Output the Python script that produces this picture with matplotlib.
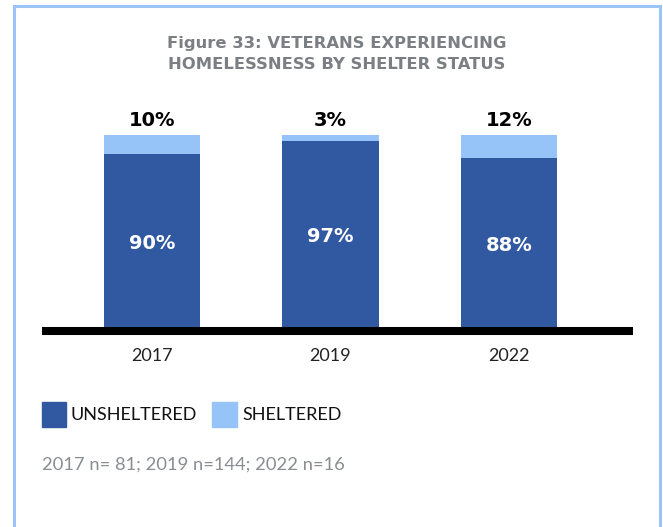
import matplotlib.pyplot as plt
from matplotlib.lines import Line2D

years = ['2017', '2019', '2022']
unsheltered = [90, 97, 88]
sheltered = [10, 3, 12]
footnote = '2017 n= 81; 2019 n=144; 2022 n=16'
title = 'Figure 33: VETERANS EXPERIENCING\nHOMELESSNESS BY SHELTER STATUS'

dark = '#3159a1'
light = '#97c4f8'
frame = '#9cc4f6'

W, H = 663, 527
fig = plt.figure(figsize=(W / 100, H / 100), dpi=100)

# frame round the card (no bottom edge)
fig.add_artist(Line2D([14 / W, 14 / W], [0, 1 - 6 / H], color=frame, lw=2.2))
fig.add_artist(Line2D([660 / W, 660 / W], [0, 1 - 6 / H], color=frame, lw=2.2))
fig.add_artist(Line2D([14 / W, 660 / W], [1 - 6 / H, 1 - 6 / H], color=frame, lw=2.2))

# axes: x 42..633 px, y 0 at 327 px, 100 at 135 px
ax = fig.add_axes([42 / W, (H - 327) / H, (633 - 42) / W, 192 / H])
x = list(range(len(years)))
ax.bar(x, unsheltered, width=0.54, color=dark)
ax.bar(x, sheltered, width=0.54, bottom=unsheltered, color=light)
ax.set_xlim(-0.616, 2.695)
ax.set_ylim(0, 100)

for i in x:
    ax.text(i, unsheltered[i] / 2 - 1.5, f'{unsheltered[i]}%', ha='center', va='center',
            color='white', fontsize=14, fontweight='bold', family='DejaVu Sans')
    ax.text(i, 107.5, f'{sheltered[i]}%', ha='center', va='center', clip_on=False,
            color='black', fontsize=14, fontweight='bold', family='DejaVu Sans')

ax.axhline(-2.1, color='black', lw=5.8, clip_on=False, solid_capstyle='butt')
for s in ax.spines.values():
    s.set_visible(False)
ax.set_yticks([])
ax.set_xticks(x, years, fontsize=13, family='Lato', color='#222222')
ax.tick_params(axis='x', length=0, pad=15)

fig.text(337 / W, 1 - 54 / H, title, ha='center', va='center', fontsize=11.8,
         fontweight='bold', family='DejaVu Sans', color='#7b7e83', linespacing=1.5)

# legend
fig.patches.append(plt.Rectangle((42 / W, 1 - 427 / H), 24 / W, 25 / H,
                                 transform=fig.transFigure, color=dark))
fig.text(71 / W, 1 - 415 / H, 'UNSHELTERED', ha='left', va='center', fontsize=13,
         family='Lato', color='#111111')
fig.patches.append(plt.Rectangle((212 / W, 1 - 427 / H), 25 / W, 25 / H,
                                 transform=fig.transFigure, color=light))
fig.text(242 / W, 1 - 415 / H, 'SHELTERED', ha='left', va='center', fontsize=13,
         family='Lato', color='#111111')

fig.text(42 / W, 1 - 465 / H, footnote, ha='left', va='center', fontsize=13.2,
         family='Lato', color='#8a8d92')

fig.savefig('out.png', dpi=100)
